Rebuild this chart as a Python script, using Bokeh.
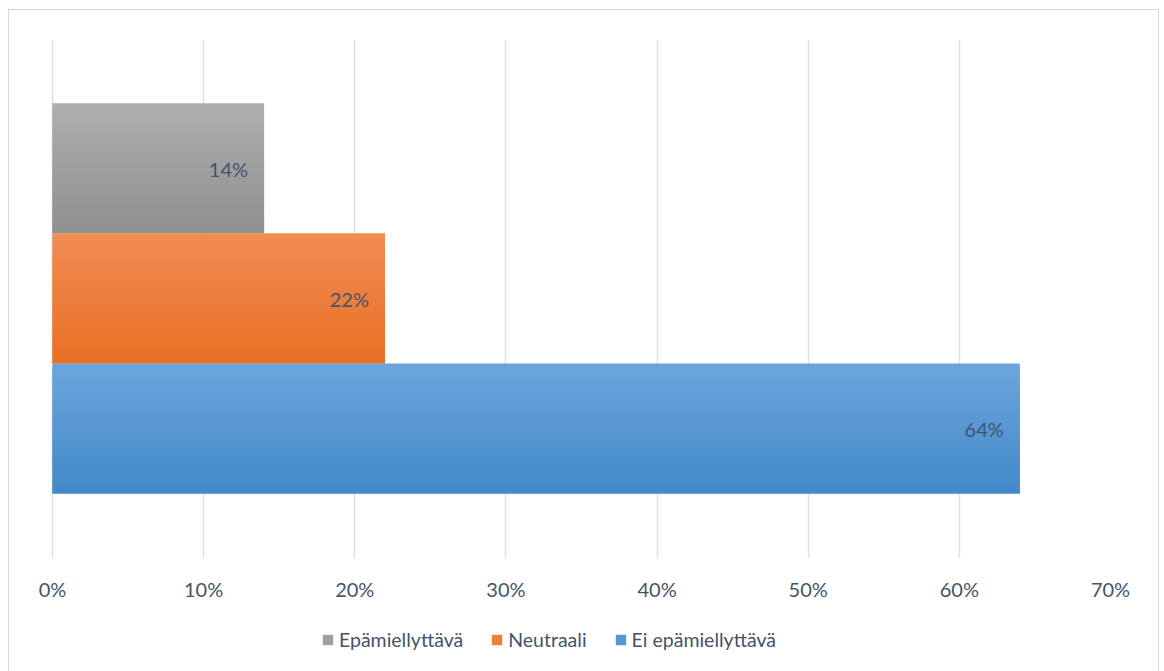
from bokeh.plotting import figure
from bokeh.layouts import column
from bokeh.models import Range1d, NumeralTickFormatter, Legend, LegendItem, ColumnDataSource, FixedTicker
from bokeh.embed import file_html
from bokeh.resources import INLINE

# Data
series = ["Epämiellyttävä", "Neutraali", "Ei epämiellyttävä"]
values = [0.14, 0.22, 0.64]
labels = ["14%", "22%", "64%"]
positions = [3.0, 2.0, 1.0]
top_colors = [(175, 175, 175), (241, 140, 85), (107, 165, 221)]
bottom_colors = [(143, 143, 143), (233, 112, 35), (67, 137, 201)]
ticks = [0, 0.1, 0.2, 0.3, 0.4, 0.5, 0.6, 0.7]

FONT = "Lato"
TXT = "#44546a"

p = figure(frame_width=1060, frame_height=519, output_backend="svg", toolbar_location=None,
           x_range=Range1d(-0.0013, 0.7), y_range=Range1d(0, 3.99),
           min_border_left=41, min_border_right=48, min_border_top=29, min_border_bottom=45)
p.outline_line_color = None
p.background_fill_color = "white"
p.border_fill_color = "white"

n = 40
mid_colors = []
for s, v, pos, tc, bc in zip(series, values, positions, top_colors, bottom_colors):
    ys, hs, cols, rs = [], [], [], []
    for i in range(n):
        t = (i + 0.5) / n
        c = tuple(int(round(tc[k] + (bc[k] - tc[k]) * t)) for k in range(3))
        ys.append(pos + 0.5 - (i + 0.5) / n)
        hs.append(1.0 / n * (2.0 if i < n - 1 else 1.0))
        cols.append("#%02x%02x%02x" % c)
        rs.append(v)
    ys = [y - (h - 1.0 / n) / 2 for y, h in zip(ys, hs)]
    mid_colors.append(cols[n // 2])
    src = ColumnDataSource(dict(y=ys, h=hs, right=rs, color=cols))
    p.hbar(y="y", height="h", left=0, right="right", source=src,
           fill_color="color", line_color=None)

lsrc = ColumnDataSource(dict(x=values, y=positions, t=labels))
p.text(x="x", y="y", text="t", source=lsrc, x_offset=-16, y_offset=1,
       text_align="right", text_baseline="middle", text_color=TXT,
       text_font_size="20px", text_font={"value": FONT})

p.xaxis.ticker = FixedTicker(ticks=ticks)
p.xaxis.formatter = NumeralTickFormatter(format="0%")
p.xaxis.axis_line_color = None
p.xaxis.major_tick_line_color = None
p.xaxis.minor_tick_line_color = None
p.xaxis.major_label_standoff = 12
p.xaxis.major_label_text_font = FONT
p.xaxis.major_label_text_font_size = "20px"
p.xaxis.major_label_text_color = TXT
p.yaxis.visible = False
p.ygrid.grid_line_color = None
p.xgrid.grid_line_color = "#dde1e7"
p.xgrid.grid_line_width = 1.5
p.xgrid.ticker = FixedTicker(ticks=ticks)

# Legend strip as a second figure (its proxy bars sit outside its visible range)
p2 = figure(width=1149, height=80, output_backend="svg", toolbar_location=None,
            x_axis_type=None, y_axis_type=None, x_range=Range1d(0, 1), y_range=Range1d(100, 101),
            min_border_left=0, min_border_right=0, min_border_top=0, min_border_bottom=0)
p2.outline_line_color = None
p2.grid.visible = False
items = []
for s, v, pos, mc in zip(series, values, positions, mid_colors):
    r = p2.hbar(y=[pos], height=1, left=0, right=[v], fill_color=mc, line_color=None)
    items.append(LegendItem(label=s, renderers=[r]))
legend = Legend(items=items, orientation="horizontal", location=(271, 32),
                label_text_font=FONT, label_text_font_size="19.5px", label_text_color=TXT,
                glyph_width=13, glyph_height=13, label_standoff=5, spacing=27,
                border_line_color=None, background_fill_alpha=0, padding=4, margin=0)
p2.add_layout(legend, "center")

layout = column(p, p2, spacing=0)
layout.styles = {"margin-left": "8px", "margin-top": "9px", "border": "1px solid #d9d9d9"}

open("out.html", "w").write(file_html(layout, INLINE))
